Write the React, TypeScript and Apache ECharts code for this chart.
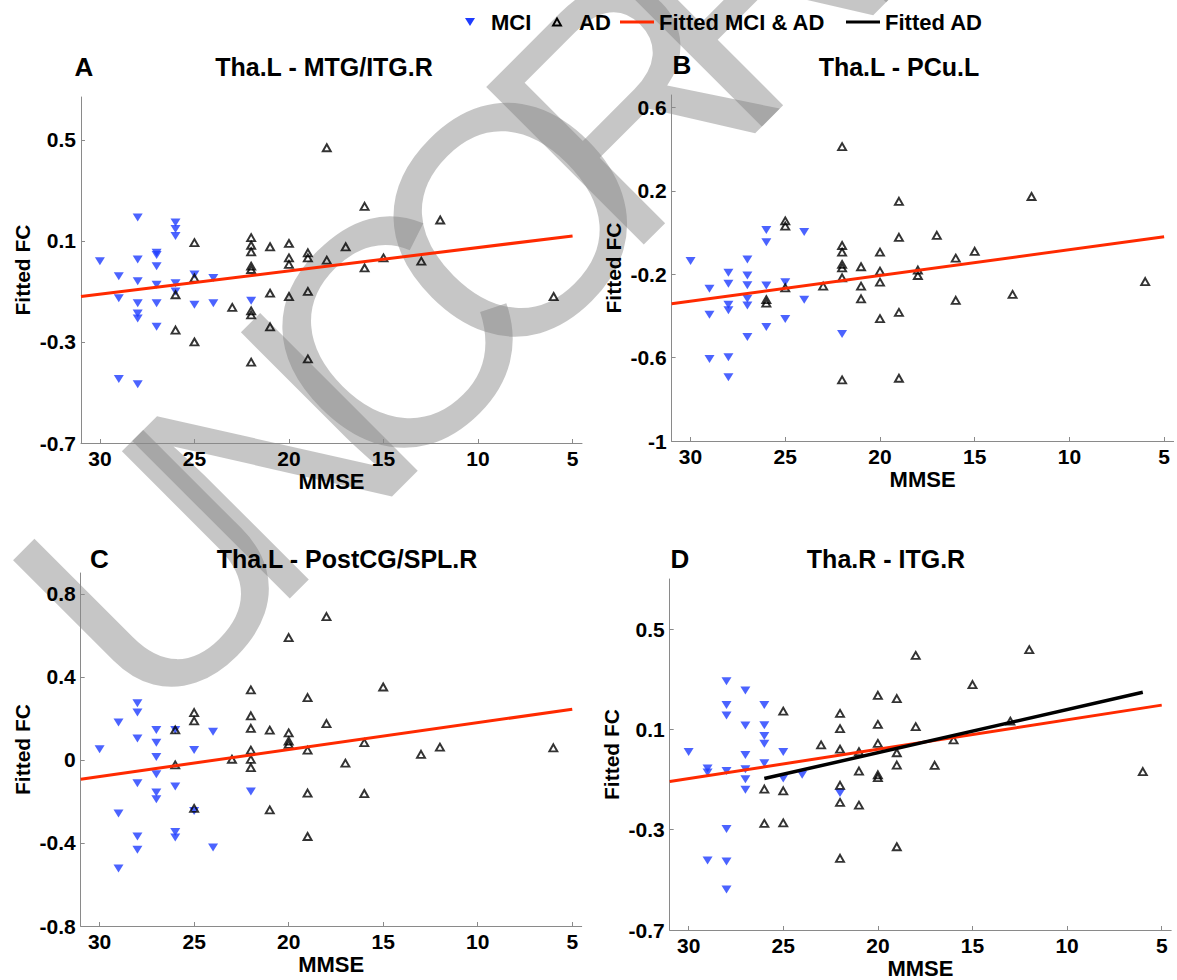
import React, { useEffect, useRef } from 'react';
import * as echarts from 'echarts';

// ---------- data ----------
const mmseTicks = [5, 10, 15, 20, 25, 30];
const yTicksA = [-0.7, -0.3, 0.1, 0.5];
const yTicksB = [-1, -0.6, -0.2, 0.2, 0.6];
const yTicksC = [-0.8, -0.4, 0, 0.4, 0.8];
const yTicksD = [-0.7, -0.3, 0.1, 0.5];

const titles = ['Tha.L - MTG/ITG.R', 'Tha.L - PCu.L', 'Tha.L - PostCG/SPL.R', 'Tha.R - ITG.R'];
const panelLetters = ['A', 'B', 'C', 'D'];
const legendNames = ['MCI', 'AD', 'Fitted MCI & AD', 'Fitted AD'];

const mciA = [[30,0.02],[29,-0.04],[29,-0.127],[29,-0.447],[28,0.193],[28,0.027],[28,-0.06],[28,-0.147],[28,-0.187],[28,-0.207],[28,-0.467],[27,0.053],[27,0.044],[27,0.0],[27,-0.073],[27,-0.147],[27,-0.24],[26,0.173],[26,0.147],[26,0.12],[26,-0.067],[26,-0.1],[25,-0.033],[25,-0.153],[24,-0.047],[24,-0.147],[22,-0.137]];
const adA = [[26,-0.113],[26,-0.253],[25,0.093],[25,-0.047],[25,-0.3],[23,-0.163],[22,0.113],[22,0.083],[22,0.057],[22,0.0],[22,-0.013],[22,-0.177],[22,-0.193],[22,-0.38],[21,0.077],[21,-0.107],[21,-0.24],[20,0.09],[20,0.033],[20,0.007],[20,-0.12],[19,0.053],[19,0.033],[19,-0.1],[19,-0.367],[18,0.469],[18,0.024],[17,0.077],[16,0.237],[16,-0.007],[15,0.033],[13,0.02],[12,0.183],[6,-0.12]];
const fitA = [[31,-0.12],[5,0.12]];

const mciB = [[30,-0.137],[29,-0.27],[29,-0.394],[29,-0.607],[28,-0.193],[28,-0.245],[28,-0.346],[28,-0.373],[28,-0.598],[28,-0.694],[27,-0.129],[27,-0.206],[27,-0.253],[27,-0.318],[27,-0.35],[27,-0.501],[26,0.012],[26,-0.046],[26,-0.254],[26,-0.453],[25,-0.238],[25,-0.415],[24,0.003],[24,-0.322],[22,-0.487]];
const adB = [[26,-0.322],[26,-0.338],[25,0.056],[25,0.031],[25,-0.265],[23,-0.257],[22,0.412],[22,-0.062],[22,-0.094],[22,-0.153],[22,-0.169],[22,-0.217],[22,-0.707],[21,-0.164],[21,-0.257],[21,-0.318],[20,-0.094],[20,-0.185],[20,-0.238],[20,-0.413],[19,0.15],[19,-0.023],[19,-0.383],[19,-0.699],[18,-0.18],[18,-0.206],[17,-0.013],[16,-0.123],[16,-0.325],[15,-0.09],[13,-0.297],[12,0.173],[6,-0.235]];
const fitB = [[31,-0.342],[5,-0.02]];

const mciC = [[30,0.051],[29,0.18],[29,-0.258],[29,-0.523],[28,0.273],[28,0.228],[28,0.103],[28,-0.112],[28,-0.369],[28,-0.433],[27,0.144],[27,0.083],[27,0.014],[27,-0.069],[27,-0.157],[27,-0.189],[26,0.144],[26,-0.128],[26,-0.347],[26,-0.374],[25,0.047],[25,-0.246],[24,0.136],[24,-0.422],[22,-0.152]];
const adC = [[26,0.144],[26,-0.024],[25,0.228],[25,0.188],[25,-0.234],[23,0.003],[22,0.337],[22,0.212],[22,0.152],[22,0.047],[22,0.002],[22,-0.037],[21,0.143],[21,-0.241],[20,0.589],[20,0.13],[20,0.091],[20,0.075],[19,0.3],[19,0.047],[19,-0.16],[19,-0.369],[18,0.69],[18,0.175],[17,-0.016],[16,0.083],[16,-0.162],[15,0.351],[13,0.027],[12,0.061],[6,0.058]];
const fitC = [[31,-0.093],[5,0.244]];

const mciD = [[30,0.01],[29,-0.056],[29,-0.072],[29,-0.423],[28,0.292],[28,0.197],[28,0.156],[28,-0.066],[28,-0.297],[28,-0.427],[28,-0.538],[27,0.255],[27,0.116],[27,-0.002],[27,-0.059],[27,-0.099],[27,-0.141],[26,0.197],[26,0.117],[26,0.074],[26,0.043],[26,-0.035],[25,0.01],[25,-0.096],[24,-0.081],[22,-0.154]];
const adD = [[26,-0.138],[26,-0.275],[25,0.173],[25,-0.145],[25,-0.273],[23,0.038],[22,0.164],[22,0.103],[22,0.021],[22,-0.123],[22,-0.191],[22,-0.414],[21,0.011],[21,-0.066],[21,-0.202],[20,0.236],[20,0.12],[20,0.044],[20,-0.081],[20,-0.092],[19,0.223],[19,0.007],[19,-0.042],[19,-0.368],[18,0.395],[18,0.111],[17,-0.043],[16,0.058],[15,0.279],[13,0.133],[12,0.418],[6,-0.068]];
const fitD = [[31,-0.108],[5,0.197]];
const fitAdD = [[26,-0.096],[6,0.248]];

const watermarkLetters = ['U', 'N', 'C', 'O', 'R', 'R', 'E'];

// ---------- layout / style ----------
const FONT = '"Liberation Sans", Arial, sans-serif';
const BLUE = '#1e3cff';
const RED = '#ff2a00';
const AXIS = '#8a8a8a';

const grids = [
  { left: 81, top: 97, width: 501, height: 346 },
  { left: 671.6, top: 95, width: 502, height: 346 },
  { left: 80.7, top: 573, width: 501, height: 353 },
  { left: 669.7, top: 579, width: 501.5, height: 352.7 },
];
const yRanges = [
  { min: -0.7, max: 0.67, ticks: yTicksA },
  { min: -1, max: 0.66, ticks: yTicksB },
  { min: -0.8, max: 0.9, ticks: yTicksC },
  { min: -0.7, max: 0.7, ticks: yTicksD },
];
const titlePos = [[324, 67], [899, 67], [347, 559], [886, 559]];
const letterPos = [[84, 67], [682, 65], [99.5, 559], [680, 559]];

export default function App() {
  const ref = useRef<HTMLDivElement>(null);
  useEffect(() => {
    document.body.style.margin = '0';
    if (!ref.current) return;
    const chart = echarts.init(ref.current, undefined, { renderer: 'svg' });
    const series: any[] = [];
    const panels = [
      { mci: mciA, ad: adA, fit: fitA },
      { mci: mciB, ad: adB, fit: fitB },
      { mci: mciC, ad: adC, fit: fitC },
      { mci: mciD, ad: adD, fit: fitD, fitAd: fitAdD },
    ];
    panels.forEach((p, i) => {
      series.push({
        name: legendNames[0], type: 'scatter', xAxisIndex: i, yAxisIndex: i, data: p.mci,
        symbol: 'triangle', symbolRotate: 180, symbolSize: [10, 8],
        itemStyle: { color: BLUE }, z: 3,
      });
      series.push({
        name: legendNames[1], type: 'scatter', xAxisIndex: i, yAxisIndex: i, data: p.ad,
        symbol: 'triangle', symbolSize: [8, 7],
        itemStyle: { color: 'rgba(0,0,0,0)', borderColor: '#000', borderWidth: 1.9 }, z: 4,
      });
      series.push({
        name: legendNames[2], type: 'line', xAxisIndex: i, yAxisIndex: i, data: p.fit,
        symbol: 'none', lineStyle: { color: RED, width: 3 }, z: 5,
      });
      if (p.fitAd) {
        series.push({
          name: legendNames[3], type: 'line', xAxisIndex: i, yAxisIndex: i, data: p.fitAd,
          symbol: 'none', lineStyle: { color: '#000', width: 3.5 }, z: 6,
        });
      }
    });

    const labelStyle = { color: '#000', fontSize: 21, fontWeight: 'bold', fontFamily: FONT };
    const xAxis = grids.map((_, i) => ({
      gridIndex: i, type: 'value', inverse: true, min: 4.5, max: 31,
      axisLine: { onZero: false, lineStyle: { color: AXIS, width: 1 } },
      axisTick: { inside: true, length: 4, customValues: mmseTicks, lineStyle: { color: AXIS } },
      axisLabel: { ...labelStyle, customValues: mmseTicks, margin: 5 },
      splitLine: { show: false },
      name: 'MMSE', nameLocation: 'middle', nameGap: 27,
      nameTextStyle: { color: '#000', fontSize: 22, fontWeight: 'bold', fontFamily: FONT },
    }));
    const yAxis = yRanges.map((r, i) => ({
      gridIndex: i, type: 'value', min: r.min, max: r.max,
      axisLine: { onZero: false, lineStyle: { color: AXIS, width: 1 } },
      axisTick: { inside: true, length: 4, customValues: r.ticks, lineStyle: { color: AXIS } },
      axisLabel: { ...labelStyle, customValues: r.ticks, margin: 5 },
      splitLine: { show: false },
      name: 'Fitted FC', nameLocation: 'middle', nameRotate: 90, nameGap: 48,
      nameTextStyle: { color: '#000', fontSize: 21, fontWeight: 'bold', fontFamily: FONT },
    }));

    const graphic: any[] = [];
    // watermark (semi-transparent rotated letters under the plot)
    watermarkLetters.forEach((ch, i) => {
      const t = -417 + 236 * i;
      const s = 730;
      graphic.push({
        type: 'text', x: (s + t) / 2, y: (s - t) / 2, rotation: Math.PI / 4, z: -10, silent: true,
        style: { text: ch, fontSize: 324, fontFamily: FONT, fontWeight: 'normal', fill: 'rgba(128,128,128,0.45)', align: 'center', verticalAlign: 'middle' },
      });
    });
    titles.forEach((tt, i) => {
      graphic.push({
        type: 'text', x: titlePos[i][0], y: titlePos[i][1], z: 10,
        style: { text: tt, fontSize: 25, fontWeight: 'bold', fontFamily: FONT, fill: '#000', align: 'center', verticalAlign: 'middle' },
      });
      graphic.push({
        type: 'text', x: letterPos[i][0], y: letterPos[i][1], z: 10,
        style: { text: panelLetters[i], fontSize: 26, fontWeight: 'bold', fontFamily: FONT, fill: '#000', align: 'center', verticalAlign: 'middle' },
      });
    });
    // legend
    const ly = 22;
    const legendText = (txt: string, x: number) => ({
      type: 'text', x, y: ly, z: 10,
      style: { text: txt, fontSize: 22, fontWeight: 'bold', fontFamily: FONT, fill: '#000', align: 'left', verticalAlign: 'middle' },
    });
    graphic.push({ type: 'polygon', z: 10, shape: { points: [[465, ly - 4], [475, ly - 4], [470, ly + 4]] }, style: { fill: BLUE } });
    graphic.push(legendText(legendNames[0], 491));
    graphic.push({ type: 'polygon', z: 10, shape: { points: [[553, ly + 3.5], [561, ly + 3.5], [557, ly - 3.5]] }, style: { fill: 'none', stroke: '#000', lineWidth: 1.9 } });
    graphic.push(legendText(legendNames[1], 579));
    graphic.push({ type: 'line', z: 10, shape: { x1: 620, y1: ly, x2: 654, y2: ly }, style: { stroke: RED, lineWidth: 3 } });
    graphic.push(legendText(legendNames[2], 659));
    graphic.push({ type: 'line', z: 10, shape: { x1: 846, y1: ly, x2: 880, y2: ly }, style: { stroke: '#000', lineWidth: 3 } });
    graphic.push(legendText(legendNames[3], 885));

    chart.setOption({
      animation: false,
      backgroundColor: '#fff',
      grid: grids.map((g) => ({ ...g, containLabel: false })),
      xAxis,
      yAxis,
      series,
      graphic,
    });
    return () => chart.dispose();
  }, []);
  return <div ref={ref} style={{ width: 1177, height: 980 }} />;
}
